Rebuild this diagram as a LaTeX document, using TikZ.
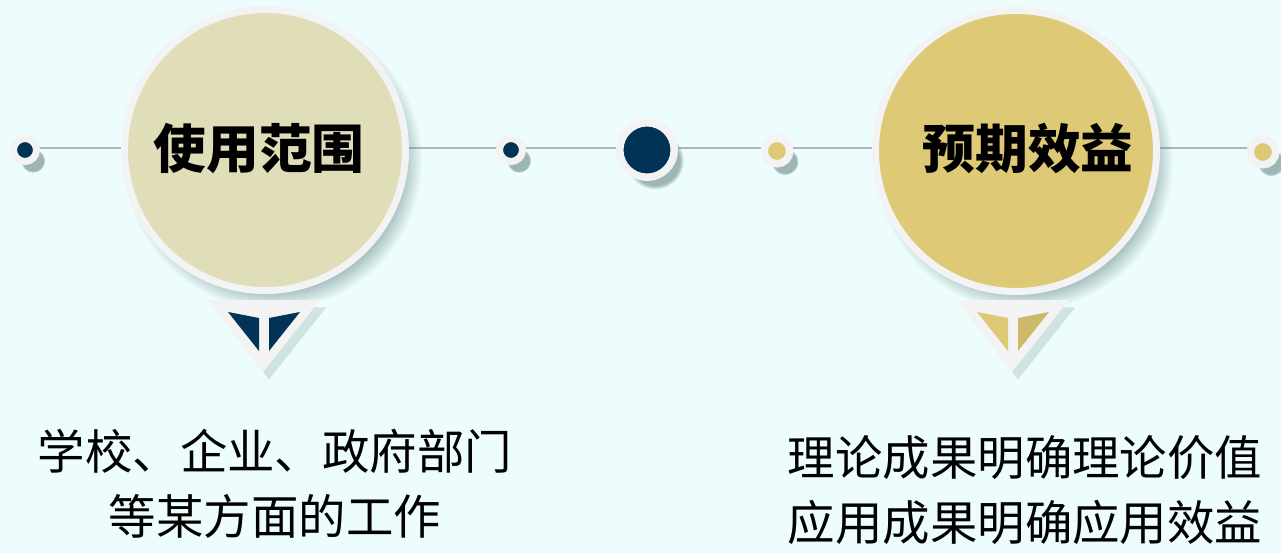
\documentclass[tikz,border=0pt]{standalone}
\usepackage{fontspec}
\newfontfamily\cjk{Noto Sans CJK SC}
\usepackage{tikz}
\usetikzlibrary{shadows}
\definecolor{bgcyan}{RGB}{237,253,253}
\definecolor{navy}{RGB}{0,51,85}
\definecolor{khaki}{RGB}{224,221,185}
\definecolor{gold}{RGB}{221,201,118}
\definecolor{darkgold}{RGB}{205,185,105}
\definecolor{ringgray}{RGB}{243,243,243}
\definecolor{shade}{RGB}{90,125,125}
\definecolor{linegray}{RGB}{175,182,182}

\begin{document}
\begin{tikzpicture}[
  ring/.style={circle, draw=ringgray, inner sep=0pt, circular drop shadow={shadow xshift=0.15cm, shadow yshift=-0.2cm, shadow scale=1.06, fill=shade, opacity=0.55}},
  bigcircle/.style={ring, line width=1.4mm, minimum size=56.2mm},
  title/.style={font=\cjk\bfseries\fontsize{30}{36}\selectfont},
  navydot/.style={ring, fill=navy, line width=1.4mm, minimum size=4.6mm},
  golddot/.style={ring, fill=gold, line width=1.5mm, minimum size=5.1mm},
  pointer/.style={fill=ringgray, drop shadow={shadow xshift=0.12cm, shadow yshift=-0.15cm, opacity=0.2, fill=shade}},
  bodytext/.style={align=center, font=\cjk\fontsize{27}{37}\selectfont}
]
  % Background
  \fill[bgcyan] (0,0) rectangle (25.62,-11.06);
  \coordinate (lstart) at (0.50,-2.96);
  \coordinate (lend) at (25.26,-2.96);
  \draw[linegray, line width=0.6pt] (lstart) -- (lend);

  % Nodes
  \node[navydot] (d1) at (0.50,-3.0) {};
  \node[bigcircle, fill=khaki] (use) at (5.30,-3.0) {};
  \node[title] (usetitle) at (5.18,-2.98) {使用范围};
  \node[navydot] (d2) at (10.22,-3.0) {};
  \node[ring, fill=navy, line width=1.5mm, minimum size=10.9mm] (hub) at (12.94,-3.0) {};
  \node[golddot] (d3) at (15.54,-3.02) {};
  \node[bigcircle, fill=gold] (gain) at (20.32,-3.02) {};
  \node[title] (gaintitle) at (20.56,-2.98) {预期效益};
  \node[golddot] (d4) at (25.26,-3.04) {};

  % Pointers
  \path[pointer] (4.16,-6.0) -- (6.40,-6.0) -- (5.26,-7.44) -- cycle;
  \fill[navy] (4.56,-6.24) -- (5.18,-6.36) -- (5.18,-7.02) -- cycle;
  \fill[navy] (5.38,-6.36) -- (6.00,-6.24) -- (5.38,-7.02) -- cycle;
  \path[pointer] (19.14,-6.0) -- (21.38,-6.0) -- (20.24,-7.44) -- cycle;
  \fill[gold] (19.54,-6.24) -- (20.16,-6.36) -- (20.16,-7.02) -- cycle;
  \fill[darkgold] (20.36,-6.36) -- (20.98,-6.24) -- (20.36,-7.02) -- cycle;

  % Texts
  \node[bodytext] (usetext) at (5.50,-9.68) {学校、企业、政府部门\\等某方面的工作};
  \node[bodytext] (gaintext) at (20.50,-9.80) {理论成果明确理论价值\\应用成果明确应用效益};
\end{tikzpicture}
\end{document}
